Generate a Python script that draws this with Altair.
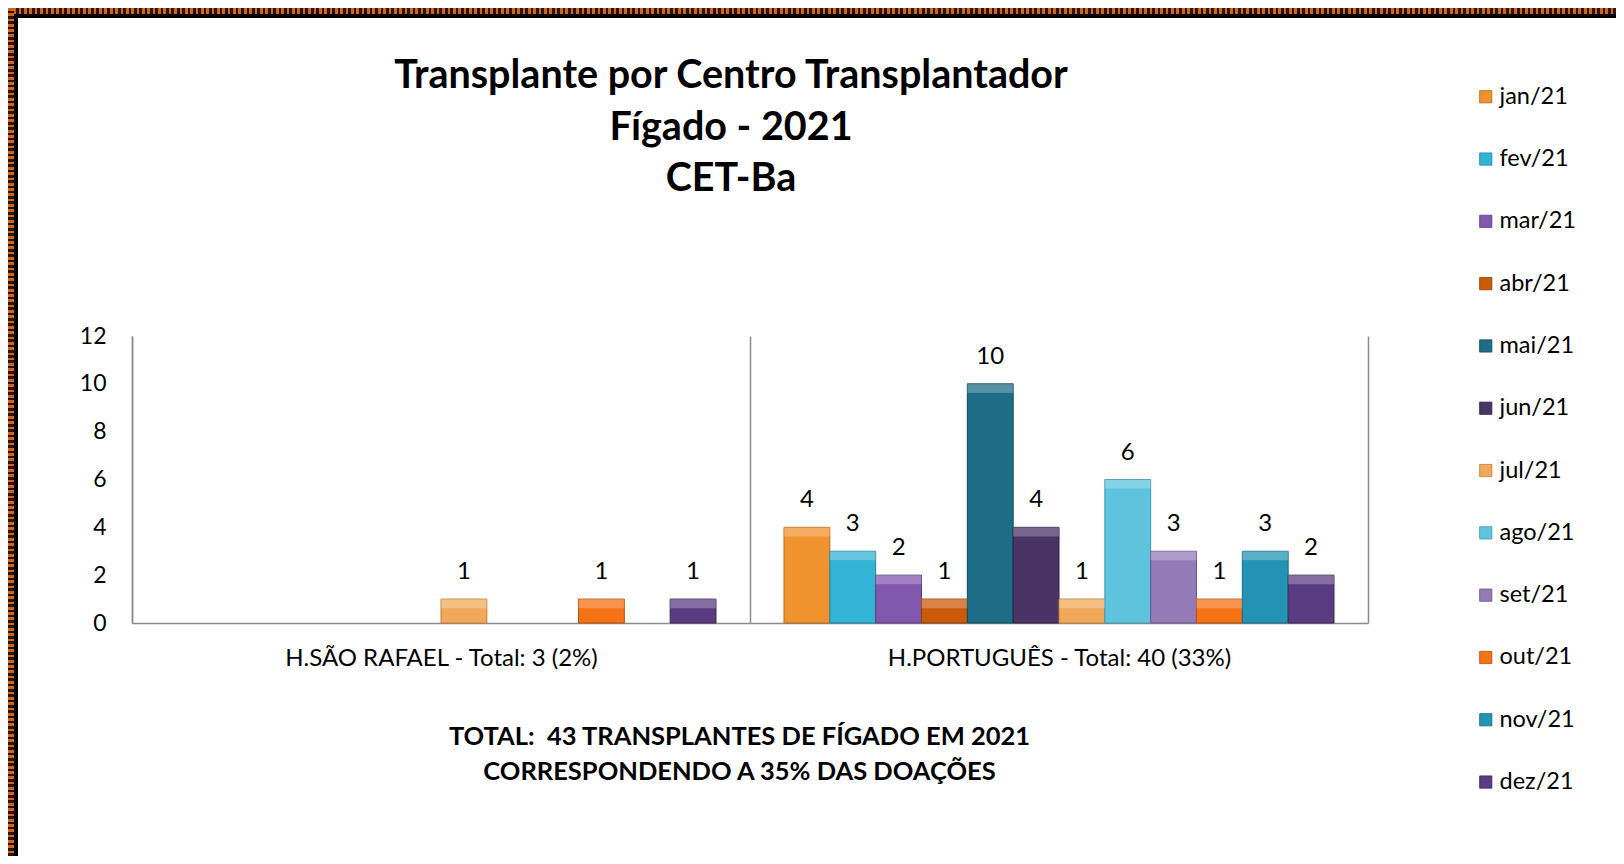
import altair as alt
import pandas as pd

# ---- data ----
hospitals = ["H.SÃO RAFAEL - Total: 3 (2%)", "H.PORTUGUÊS - Total: 40 (33%)"]
months = ["jan/21", "fev/21", "mar/21", "abr/21", "mai/21", "jun/21",
          "jul/21", "ago/21", "set/21", "out/21", "nov/21", "dez/21"]
sao_rafael = [0, 0, 0, 0, 0, 0, 1, 0, 0, 1, 0, 1]
portugues = [4, 3, 2, 1, 10, 4, 1, 6, 3, 1, 3, 2]
y_ticks = [0, 2, 4, 6, 8, 10, 12]

title_lines = ["Transplante por Centro Transplantador", "Fígado - 2021", "CET-Ba"]
footer_lines = ["TOTAL:\u00a0 43 TRANSPLANTES DE FÍGADO EM 2021",
                "CORRESPONDENDO A 35% DAS DOAÇÕES"]

# ---- styles ----
fill_colors = ["#F0922E", "#33B3D6", "#8257AE", "#CC5A0B", "#1C6D85", "#4A3466",
               "#F2A85A", "#5EC4DE", "#957AB8", "#F57215", "#2393B3", "#5A3C83"]
edge_colors = ["#B86A1C", "#1F86A3", "#5E3C85", "#8E3E06", "#0F4A5C", "#2E1F42",
               "#C07E38", "#3A98B0", "#6D5690", "#B8520C", "#166C85", "#3B2658"]

rows = []
for hosp, vals in zip(hospitals, [sao_rafael, portugues]):
    for m, v in zip(months, vals):
        rows.append({"hospital": hosp, "month": m, "value": v})
df = pd.DataFrame(rows)

W, H = 1236, 287
PAD_L, PAD_T = 124, 328
TOTAL_W, TOTAL_H = 1608, 848

FONT = "Lato"

x_enc = alt.X(
    "hospital:N", sort=hospitals,
    scale=alt.Scale(domain=hospitals, paddingInner=0, paddingOuter=0),
    axis=alt.Axis(
        title=footer_lines, titleFont=FONT, titleFontSize=25.5, titleFontWeight="bold",
        titleColor="#000000", titleX=607, titleY=101, titleBaseline="top",
        titleAlign="center", titleAnchor="start", titleLineHeight=35,
        labelFont=FONT, labelFontSize=24, labelColor="#000000", labelPadding=23,
        labelLimit=0, labelAngle=0, ticks=False, tickSize=0, grid=True, tickBand="extent",
        gridColor="#8C8C8C", gridWidth=1.5, domainColor="#8C8C8C", domainWidth=1.5,
    ),
)
xoff_enc = alt.XOffset("month:N", sort=months,
                       scale=alt.Scale(domain=months, paddingInner=0, paddingOuter=0.742))
y_enc = alt.Y(
    "value:Q", scale=alt.Scale(domain=[0, 12], nice=False),
    axis=alt.Axis(values=y_ticks, title=None, grid=False, ticks=False, tickSize=0,
                  labelFont=FONT, labelFontSize=23, labelColor="#000000", labelPadding=26,
                  domainColor="#8C8C8C", domainWidth=1.5),
)

base = alt.Chart(df).transform_filter("datum.value > 0")

bars = base.mark_bar(strokeWidth=1).encode(
    x=x_enc,
    xOffset=xoff_enc,
    y=y_enc,
    color=alt.Color(
        "month:N", sort=months,
        scale=alt.Scale(domain=months, range=fill_colors),
        legend=alt.Legend(
            title=None, orient="none", legendX=1342, legendY=-251,
            symbolType="square", symbolSize=150, symbolStrokeWidth=0.8,
            labelFont=FONT, labelFontSize=23.5, labelColor="#000000",
            labelOffset=2, rowPadding=37.3, padding=0,
        ),
    ),
    stroke=alt.Stroke("month:N", sort=months,
                      scale=alt.Scale(domain=months, range=edge_colors), legend=None),
)

# lighter top face to hint at the bevelled bars
caps = base.transform_calculate(cap="datum.value - 0.38").mark_bar(
    color="#FFFFFF", opacity=0.25
).encode(
    x=alt.X("hospital:N", sort=hospitals),
    xOffset=alt.XOffset("month:N", sort=months),
    y=alt.Y("value:Q"),
    y2=alt.Y2("cap:Q"),
)

labels = base.mark_text(baseline="middle", dy=-27, font=FONT, fontSize=24,
                        color="#000000").encode(
    x=alt.X("hospital:N", sort=hospitals),
    xOffset=alt.XOffset("month:N", sort=months),
    y=alt.Y("value:Q"),
    text=alt.Text("value:Q"),
)

one = alt.Data(values=[{"k": 1}])
title_y = [-260, -208, -157]
title_layers = [
    alt.Chart(one).mark_text(font=FONT, fontSize=39.5, fontWeight="bold", color="#000000",
                             align="center", baseline="middle").encode(
        x=alt.value(599), y=alt.value(ty), text=alt.value(line))
    for line, ty in zip(title_lines, title_y)
]


def stripes(n, c1, c2):
    stops = []
    for i in range(n):
        a, b, c = i / n, (i + 0.5) / n, (i + 1) / n
        stops += [alt.GradientStop(offset=a, color=c1), alt.GradientStop(offset=b, color=c1),
                  alt.GradientStop(offset=b, color=c2), alt.GradientStop(offset=c, color=c2)]
    return stops


HB, BB = 6, 4  # hatch band, black band
top_hatch = alt.Chart(one).mark_rect(
    fill=alt.Gradient(gradient="linear", x1=0, x2=1, y1=0, y2=0,
                      stops=stripes(300, "#D2651E", "#2B1406"))
).encode(x=alt.value(-PAD_L), x2=alt.value(TOTAL_W - PAD_L),
         y=alt.value(-PAD_T), y2=alt.value(-PAD_T + HB))
left_hatch = alt.Chart(one).mark_rect(
    fill=alt.Gradient(gradient="linear", x1=0, x2=0, y1=0, y2=1,
                      stops=stripes(160, "#D2651E", "#2B1406"))
).encode(x=alt.value(-PAD_L), x2=alt.value(-PAD_L + HB),
         y=alt.value(-PAD_T), y2=alt.value(TOTAL_H - PAD_T))
top_black = alt.Chart(one).mark_rect(color="#000000").encode(
    x=alt.value(-PAD_L + HB), x2=alt.value(TOTAL_W - PAD_L),
    y=alt.value(-PAD_T + HB), y2=alt.value(-PAD_T + HB + BB))
left_black = alt.Chart(one).mark_rect(color="#000000").encode(
    x=alt.value(-PAD_L + HB), x2=alt.value(-PAD_L + HB + BB),
    y=alt.value(-PAD_T + HB), y2=alt.value(TOTAL_H - PAD_T))

chart = alt.layer(
    bars, caps, labels, *title_layers, top_hatch, left_hatch, top_black, left_black
).properties(
    width=W, height=H,
    autosize=alt.AutoSizeParams(type="none"),
    padding={"left": PAD_L, "top": PAD_T, "right": TOTAL_W - PAD_L - W,
             "bottom": TOTAL_H - PAD_T - H},
).configure(background="#FFFFFF").configure_view(stroke=None)

chart.save("out.html", embed_options={"renderer": "svg", "actions": False})
